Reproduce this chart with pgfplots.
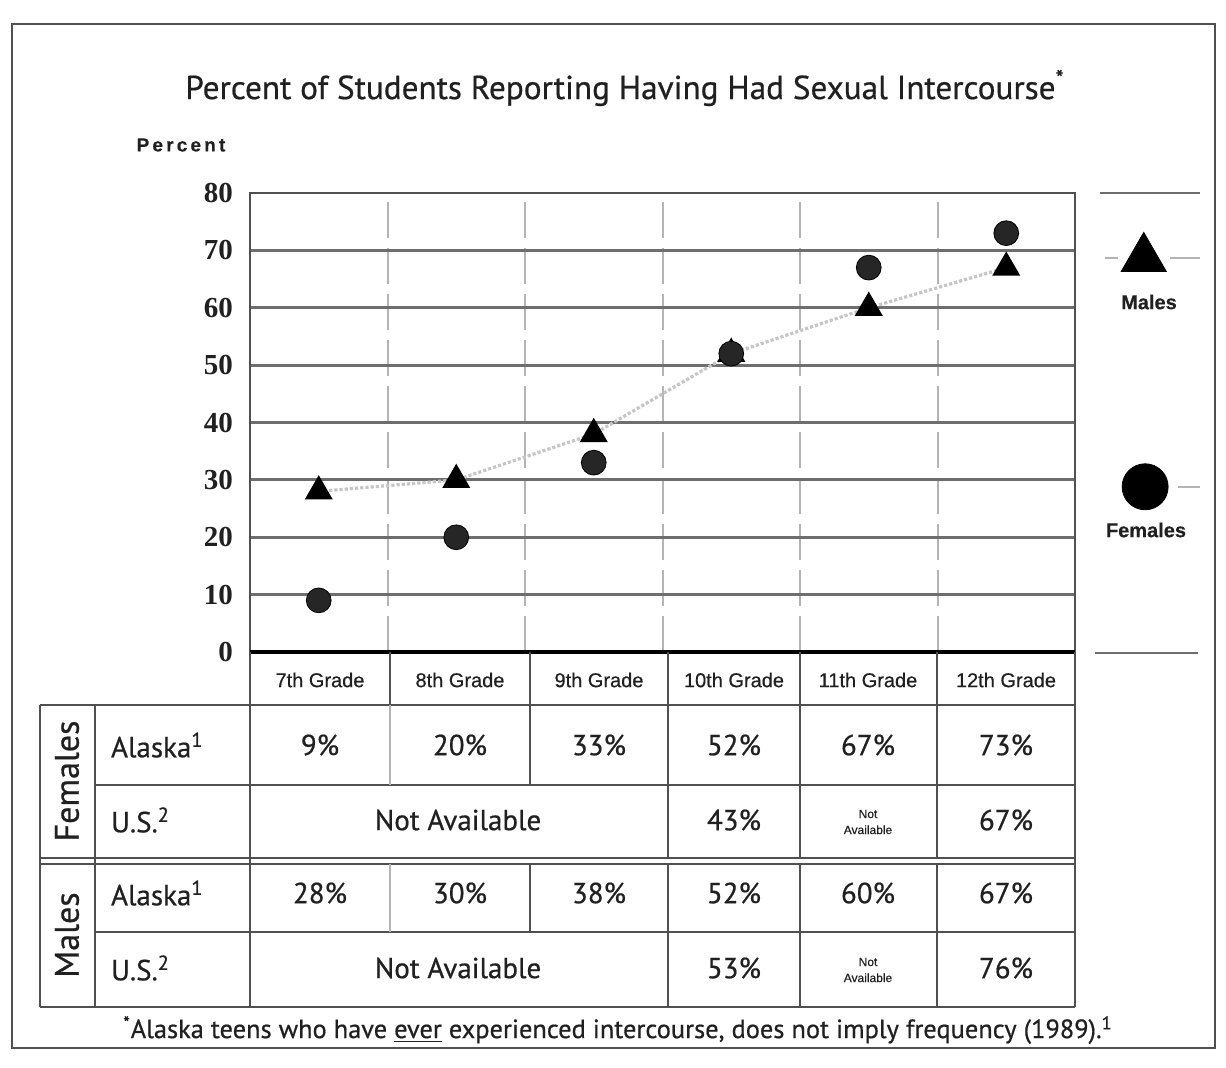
\documentclass[border=0pt]{standalone}
\usepackage{pgfplots}
\pgfplotsset{compat=1.18}
\usepackage{fontspec}
\setmainfont{PT Sans}[FakeBold=0.6]
\newfontfamily\arialf{Liberation Sans}[FakeBold=0.4]
\newfontfamily\timesf{Liberation Serif}
\definecolor{gridc}{HTML}{6E6E6E}
\definecolor{vgridc}{HTML}{B4B4B4}
\definecolor{linec}{HTML}{505050}
\definecolor{txt}{HTML}{202020}
\begin{document}
\begin{tikzpicture}
\begin{scope}[x=0.5pt,y=-0.5pt]
\useasboundingbox (0,0) rectangle (1226,1067);
% outer frame
\draw[linec, line width=1.2pt] (12,24) rectangle (1215,1048);
% title
\node[txt, font=\fontsize{16.6}{20}\selectfont] at (625,88) {Percent of Students Reporting Having Had Sexual Intercourse\textsuperscript{*}};
\node[txt, font=\arialf\bfseries\fontsize{9.5}{11}\selectfont] at (181,145) {P\,e\,r\,c\,e\,n\,t};
\end{scope}
\begin{axis}[
  at={(125pt,-326pt)}, anchor=south west,
  scale only axis, width=412.5pt, height=229.5pt,
  xmin=0, xmax=6, ymin=0, ymax=80,
  xtick={1,2,3,4,5}, xticklabels={},
  ytick={0,10,...,80},
  major tick length=0pt,
  xmajorgrids, ymajorgrids,
  x grid style={vgridc, line width=1pt, dash pattern=on 18pt off 5pt},
  y grid style={gridc, line width=1.4pt},
  axis line style={linec, line width=1.2pt},
  /pgf/number format/assume math mode=true,
  yticklabel style={font=\timesf\bfseries\fontsize{14.5}{16}\selectfont, text=txt, xshift=-5pt},
  clip=false,
]
% Males (Alaska)
\addplot[gray!45, line width=1.6pt, densely dotted, mark=triangle*, mark size=6.5pt,
  mark options={solid, fill=black, draw=black}]
  coordinates {(0.5,28) (1.5,30) (2.5,38) (3.5,52) (4.5,60) (5.5,67)};
% Females (Alaska)
\addplot[only marks, mark=*, mark size=6.2pt, fill=black!85, draw=black]
  coordinates {(0.5,9) (1.5,20) (2.5,33) (3.5,52) (4.5,67) (5.5,73)};
% legend markers
\addplot[only marks, mark=triangle*, mark size=13pt, fill=black, draw=black]
  coordinates {(6.5,68.6)};
\addplot[only marks, mark=*, mark size=11.5pt, fill=black, draw=black]
  coordinates {(6.51,28.8)};
\end{axis}
\begin{scope}[x=0.5pt,y=-0.5pt]
% bottom axis line
\draw[black, line width=2.2pt] (250,652) -- (1075,652);
% right-side lines
\draw[gridc, line width=1.4pt] (1100,193) -- (1200,193);
\draw[gridc, line width=1.4pt] (1095,653) -- (1198,653);
\draw[vgridc, line width=0.8pt] (1105,258) -- (1118,258);
\draw[vgridc, line width=0.8pt] (1170,258) -- (1200,258);
\draw[vgridc, line width=0.8pt] (1178,487) -- (1200,487);
\node[txt, font=\arialf\bfseries\fontsize{10}{12}\selectfont] at (1149,302) {Males};
\node[txt, font=\arialf\bfseries\fontsize{10}{12}\selectfont] at (1146,530) {Females};
% table lines
\begin{scope}[linec, line width=1.2pt]
\draw (250,652) -- (250,1007);
\draw (1075,652) -- (1075,1007);
\draw (40,705) -- (1075,705);
\draw (95,785) -- (1075,785);
\draw (40,858) -- (1075,858);
\draw (40,864) -- (1075,864);
\draw (95,932) -- (1075,932);
\draw (40,1007) -- (1075,1007);
\draw (40,705) -- (40,1007);
\draw (95,705) -- (95,1007);
\foreach \x in {390,530,668,800,937} \draw (\x,652) -- (\x,705);
\foreach \x in {530,668,800,937} {\draw (\x,705) -- (\x,785); \draw (\x,864) -- (\x,932);}
\draw[vgridc] (390,705) -- (390,785);
\draw[vgridc] (390,864) -- (390,932);
\foreach \x in {668,800,937} {\draw (\x,785) -- (\x,858); \draw (\x,932) -- (\x,1007);}
\end{scope}
% header labels
\foreach \x/\g in {320/7th,460/8th,599/9th,734/10th,868/11th,1006/12th}
  \node[txt, font=\arialf\fontsize{10}{12}\selectfont] at (\x,680) {\g\ Grade};
% row group labels
\node[txt, rotate=90, font=\fontsize{17}{20}\selectfont] at (67,781) {Females};
\node[txt, rotate=90, font=\fontsize{17}{20}\selectfont] at (67,935) {Males};
\begin{scope}[every node/.style={txt, font=\fontsize{14.5}{17}\selectfont}]
\node[anchor=west] at (104,745) {Alaska\textsuperscript{1}};
\node[anchor=west] at (104,820) {U.S.\textsuperscript{2}};
\node[anchor=west] at (104,893) {Alaska\textsuperscript{1}};
\node[anchor=west] at (104,968) {U.S.\textsuperscript{2}};
\foreach \x/\v in {320/9,460/20,599/33,734/52,868/67,1006/73}
  \node at (\x,745) {\v\%};
\foreach \x/\v in {320/28,460/30,599/38,734/52,868/60,1006/67}
  \node at (\x,893) {\v\%};
\node at (458,820) {Not Available};
\node at (734,820) {43\%};
\node at (1006,820) {67\%};
\node at (458,968) {Not Available};
\node at (734,968) {53\%};
\node at (1006,968) {76\%};
\end{scope}
\node[txt, align=center, font=\arialf\fontsize{6}{8}\selectfont] at (868,822) {Not\\Available};
\node[txt, align=center, font=\arialf\fontsize{6}{8}\selectfont] at (868,970) {Not\\Available};
% footnote
\node[txt, font=\fontsize{13.2}{15}\selectfont] at (618,1030) {\textsuperscript{*}Alaska teens who have \underline{ever} experienced intercourse, does not imply frequency (1989).\textsuperscript{1}};
\end{scope}
\end{tikzpicture}
\end{document}
